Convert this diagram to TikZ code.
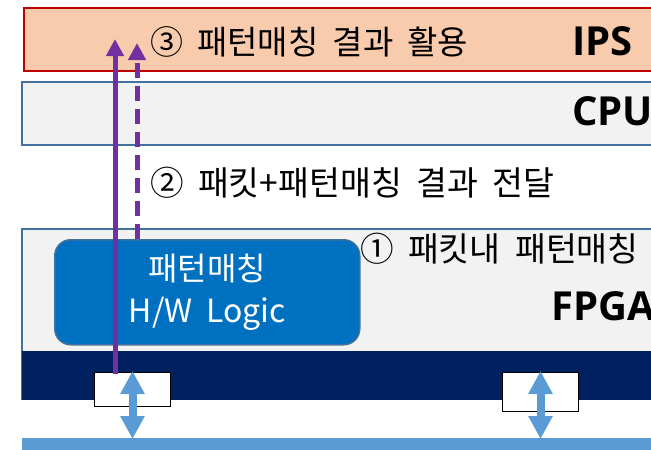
\documentclass[tikz,border=0pt]{standalone}
\usepackage{fontspec}
\newfontfamily\kr{Noto Sans CJK KR}[WordSpace=1.9]
\newfontfamily\lat{Open Sans}
\usetikzlibrary{arrows.meta}
\definecolor{ipsfill}{HTML}{F8CBAD}
\definecolor{ipsline}{HTML}{C00000}
\definecolor{panel}{HTML}{F2F2F2}
\definecolor{panelline}{HTML}{41719C}
\definecolor{hwblue}{HTML}{0070C0}
\definecolor{navy}{HTML}{002060}
\definecolor{lblue}{HTML}{5B9BD5}
\definecolor{purp}{HTML}{7030A0}
\tikzset{
  layer/.style={draw=panelline, line width=1.5pt, fill=panel, anchor=north west, inner sep=0pt},
  krlabel/.style={anchor=base west, inner sep=0pt, font=\kr\fontsize{33}{38}\selectfont},
  biglabel/.style={anchor=base west, inner sep=0pt, font=\lat\bfseries\fontsize{40}{44}\selectfont},
  port/.style={draw=black, line width=1pt, fill=white, anchor=north west, inner sep=0pt},
  purparrow/.style={draw=purp, line width=5pt, -{Triangle[length=17pt,width=17pt]}},
  bluearrow/.style={draw=lblue, line width=8pt, {Triangle[length=23pt,width=23pt]}-{Triangle[length=23pt,width=23pt]}, shorten <=-1pt, shorten >=-1pt}
}
\begin{document}
\begin{tikzpicture}[x=1pt,y=-1pt]
\useasboundingbox (0,0) rectangle (651,450);
\clip (0,0) rectangle (651,450);
% layers
\node[draw=ipsline, line width=2pt, fill=ipsfill, anchor=north west, inner sep=0pt, minimum width=680pt, minimum height=63pt] (ips) at (23,7) {};
\node[layer, minimum width=680pt, minimum height=63pt] (cpu) at (21,81) {};
\node[layer, minimum width=680pt, minimum height=170pt] (fpga) at (21,228) {};
\node[draw=panelline, line width=1.5pt, fill=hwblue, rounded corners=16pt, anchor=north west, minimum width=305pt, minimum height=105pt, inner sep=0pt, text=white, align=center, font=\kr\fontsize{32}{42}\selectfont] (hw) at (54,239) {패턴매칭\\H/W Logic};
\node[fill=navy, anchor=north west, inner sep=0pt, minimum width=680pt, minimum height=49pt] (band) at (22,351) {};
\node[port, minimum width=76pt, minimum height=34pt] (wb1) at (94,372) {};
\node[port, minimum width=76pt, minimum height=39pt] (wb2) at (502,372) {};
\node[fill=lblue, anchor=north west, inner sep=0pt, minimum width=680pt, minimum height=20pt] (bus) at (22,438) {};
% labels
\node[krlabel] (l3) at (150,54) {③ 패턴매칭 결과 활용};
\node[krlabel, font=\kr\fontsize{33.6}{38}\selectfont] (l2) at (150,195) {② 패킷+패턴매칭 결과 전달};
\node[krlabel, font=\kr\fontsize{33.6}{38}\selectfont] (l1) at (360,261) {① 패킷내 패턴매칭};
\node[biglabel] (tips) at (572,55) {IPS};
\node[biglabel] (tcpu) at (572,125) {CPU};
\node[biglabel] (tfpga) at (551,320) {FPGA};
% connectors
\draw[bluearrow] (wb1.north) -- (wb1.north |- bus.north);
\draw[bluearrow] (wb2.north) -- (wb2.north |- bus.north);
\coordinate (s1) at ([xshift=21pt,yshift=-2pt]wb1.north west);
\coordinate (t1) at (s1 |- 0,39);
\draw[purparrow] (s1) -- (t1);
\coordinate (s2) at (137,239);
\coordinate (t2) at (137,43);
\draw[purparrow, dash pattern=on 15pt off 8pt] (hw.north -| s2) -- (t2);
\end{tikzpicture}
\end{document}
